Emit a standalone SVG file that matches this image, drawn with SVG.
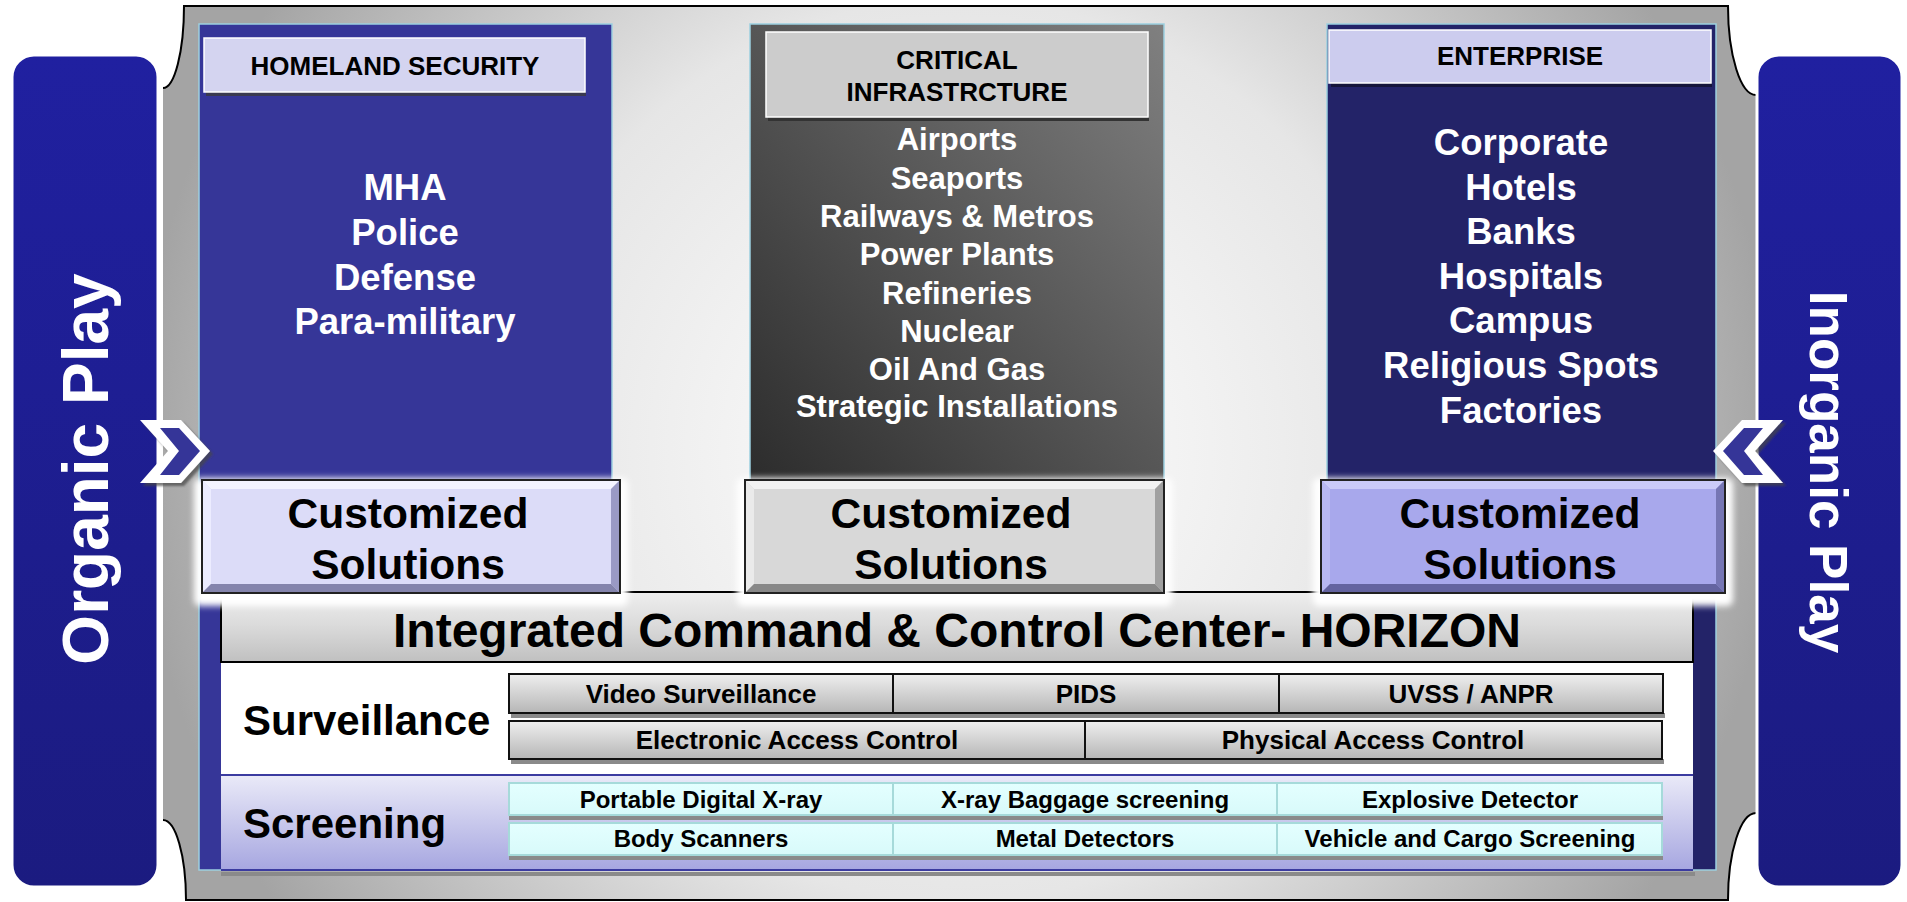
<svg xmlns="http://www.w3.org/2000/svg" width="1907" height="902" viewBox="0 0 1907 902">
<defs>
<style>
text{font-family:"Liberation Sans",Arial,sans-serif;font-weight:bold;}
.w{fill:#fff;}
.k{fill:#000;}
.mid{text-anchor:middle;}
.hdr{font-size:26px;fill:#000;text-anchor:middle;}
.item36{font-size:36.5px;fill:#fff;text-anchor:middle;}
.item31{font-size:31px;fill:#fff;text-anchor:middle;}
.cust{font-size:42.5px;fill:#000;text-anchor:middle;}
.sv{font-size:26px;fill:#000;text-anchor:middle;}
.sc{font-size:24px;fill:#000;text-anchor:middle;}
.svbox{fill:url(#gSv);stroke:#111;stroke-width:2;}
.scbox{fill:url(#gSc);stroke:#A6DADA;stroke-width:2;}
.shadow{fill:#8A8A8A;}
.edge{fill:none;stroke:#000;stroke-width:2;}
.bar{fill:url(#gBar);stroke:#fff;stroke-width:3;}
.panelEdge{stroke:#9CCFE0;stroke-width:1.5;}
</style>
<radialGradient id="gFrame" gradientUnits="userSpaceOnUse" cx="958" cy="450" r="820">
<stop offset="0" stop-color="#FFFFFF"/>
<stop offset="0.55" stop-color="#E6E6E6"/>
<stop offset="1" stop-color="#A4A4A4"/>
</radialGradient>
<linearGradient id="gBar" x1="0" y1="0" x2="0" y2="1">
<stop offset="0" stop-color="#2020A0"/>
<stop offset="1" stop-color="#1B1B80"/>
</linearGradient>
<linearGradient id="gCI" x1="0" y1="1" x2="1" y2="0">
<stop offset="0" stop-color="#2C2C2C"/>
<stop offset="1" stop-color="#808080"/>
</linearGradient>
<linearGradient id="gBand" x1="0" y1="0" x2="0" y2="1">
<stop offset="0" stop-color="#EEEEEE"/>
<stop offset="0.45" stop-color="#DCDCDC"/>
<stop offset="1" stop-color="#C0C0C0"/>
</linearGradient>
<linearGradient id="gLav" x1="0" y1="0" x2="0" y2="1">
<stop offset="0" stop-color="#EAEAF8"/>
<stop offset="1" stop-color="#A6A6E0"/>
</linearGradient>
<linearGradient id="gSv" x1="0" y1="0" x2="0" y2="1">
<stop offset="0" stop-color="#EFEFEF"/>
<stop offset="1" stop-color="#B6B6B6"/>
</linearGradient>
<linearGradient id="gSc" x1="0" y1="0" x2="0" y2="1">
<stop offset="0" stop-color="#E4FFFF"/>
<stop offset="1" stop-color="#D8FAFA"/>
</linearGradient>
<filter id="glow" x="-10%" y="-20%" width="120%" height="140%">
<feGaussianBlur stdDeviation="3"/>
</filter>
<filter id="ds" x="-20%" y="-20%" width="150%" height="150%">
<feDropShadow dx="3" dy="3" stdDeviation="1.2" flood-color="#444" flood-opacity="0.7"/>
</filter>
</defs>

<g id="frame">
<path d="M184,6 L1728,6 A28,89 0 0 0 1756,95 L1756,813 A28,87 0 0 0 1728,900 L186,900 A23,80 0 0 0 163,820 L163,88 A21,82 0 0 0 184,6 Z" fill="url(#gFrame)"/>
<path class="edge" d="M163,88 A21,82 0 0 0 184,6 L1728,6 A28,89 0 0 0 1756,95"/>
<path class="edge" d="M1756,813 A28,87 0 0 0 1728,900 L186,900 A23,80 0 0 0 163,820"/>
</g>

<g id="organic-play">
<rect class="bar" x="12" y="55" width="146" height="832" rx="22"/>
<text class="w mid" font-size="64" transform="translate(108,469) rotate(-90)">Organic Play</text>
</g>

<g id="inorganic-play">
<rect class="bar" x="1757" y="55" width="145" height="832" rx="22"/>
<text class="w mid" font-size="53" transform="translate(1810,472) rotate(90)">Inorganic Play</text>
</g>

<g id="homeland">
<rect class="panelEdge" x="199" y="24" width="413" height="846" fill="#363698"/>
<rect x="206" y="92" width="380" height="4" fill="#3A3A50"/>
<rect x="204" y="38" width="381" height="54" fill="#D4D4F0" stroke="#fff" stroke-width="1.5"/>
<text class="hdr" x="395" y="75">HOMELAND SECURITY</text>
<text class="item36" x="405" y="200">MHA</text>
<text class="item36" x="405" y="245">Police</text>
<text class="item36" x="405" y="290">Defense</text>
<text class="item36" x="405" y="334">Para-military</text>
</g>

<g id="critical">
<rect class="panelEdge" x="750" y="24" width="414" height="456" fill="url(#gCI)"/>
<rect x="768" y="117" width="381" height="4" fill="#333"/>
<rect x="766" y="32" width="382" height="85" fill="#CCCCCC" stroke="#fff" stroke-width="1.5"/>
<text class="hdr" x="957" y="69">CRITICAL</text>
<text class="hdr" x="957" y="101">INFRASTRCTURE</text>
<text class="item31" x="957" y="150">Airports</text>
<text class="item31" x="957" y="189">Seaports</text>
<text class="item31" x="957" y="227">Railways &amp; Metros</text>
<text class="item31" x="957" y="265">Power Plants</text>
<text class="item31" x="957" y="304">Refineries</text>
<text class="item31" x="957" y="342">Nuclear</text>
<text class="item31" x="957" y="380">Oil And Gas</text>
<text class="item31" x="957" y="417">Strategic Installations</text>
</g>

<g id="enterprise">
<rect class="panelEdge" x="1327" y="24" width="389" height="846" fill="#232368"/>
<rect x="1331" y="83" width="381" height="4" fill="#15153A"/>
<rect x="1329" y="30" width="382" height="53" fill="#CCCCEE" stroke="#fff" stroke-width="1.5"/>
<text class="hdr" x="1520" y="65">ENTERPRISE</text>
<text class="item36" x="1521" y="155">Corporate</text>
<text class="item36" x="1521" y="200">Hotels</text>
<text class="item36" x="1521" y="244">Banks</text>
<text class="item36" x="1521" y="289">Hospitals</text>
<text class="item36" x="1521" y="333">Campus</text>
<text class="item36" x="1521" y="378">Religious Spots</text>
<text class="item36" x="1521" y="423">Factories</text>
</g>

<g id="icc">
<rect x="221" y="592" width="1472" height="70" fill="url(#gBand)" stroke="#000" stroke-width="2"/>
<text class="k mid" font-size="48" x="957" y="647">Integrated Command &amp; Control Center- HORIZON</text>
</g>

<g id="surveillance">
<rect x="221" y="663" width="1472" height="111" fill="#fff"/>
<text class="k" font-size="42" x="243" y="735">Surveillance</text>
<rect class="shadow" x="511" y="713" width="1154" height="5"/>
<rect class="svbox" x="509" y="674" width="384" height="39"/>
<rect class="svbox" x="893" y="674" width="386" height="39"/>
<rect class="svbox" x="1279" y="674" width="384" height="39"/>
<text class="sv" x="701" y="703">Video Surveillance</text>
<text class="sv" x="1086" y="703">PIDS</text>
<text class="sv" x="1471" y="703">UVSS / ANPR</text>
<rect class="shadow" x="511" y="759" width="1153" height="5"/>
<rect class="svbox" x="509" y="721" width="576" height="38"/>
<rect class="svbox" x="1085" y="721" width="577" height="38"/>
<text class="sv" x="797" y="749">Electronic Access Control</text>
<text class="sv" x="1373" y="749">Physical Access Control</text>
</g>

<g id="screening">
<rect x="221" y="872" width="1474" height="4" fill="#8A8A8A"/>
<rect x="221" y="775" width="1472" height="96" fill="url(#gLav)"/>
<line x1="221" y1="775" x2="1693" y2="775" stroke="#3B3BA0" stroke-width="2"/>
<line x1="221" y1="870" x2="1693" y2="870" stroke="#3B3BA0" stroke-width="2"/>
<text class="k" font-size="42" x="243" y="838">Screening</text>
<rect class="shadow" x="509" y="815" width="1154" height="5"/>
<rect class="scbox" x="509" y="783" width="384" height="32"/>
<rect class="scbox" x="893" y="783" width="384" height="32"/>
<rect class="scbox" x="1277" y="783" width="385" height="32"/>
<text class="sc" x="701" y="808">Portable Digital X-ray</text>
<text class="sc" x="1085" y="808">X-ray Baggage screening</text>
<text class="sc" x="1470" y="808">Explosive Detector</text>
<rect class="shadow" x="509" y="855" width="1154" height="5"/>
<rect class="scbox" x="509" y="823" width="384" height="32"/>
<rect class="scbox" x="893" y="823" width="384" height="32"/>
<rect class="scbox" x="1277" y="823" width="385" height="32"/>
<text class="sc" x="701" y="847">Body Scanners</text>
<text class="sc" x="1085" y="847">Metal Detectors</text>
<text class="sc" x="1470" y="847">Vehicle and Cargo Screening</text>
</g>

<g id="custom-homeland">
<rect x="194" y="478" width="434" height="128" rx="6" fill="#fff" filter="url(#glow)"/>
<rect x="202" y="480" width="418" height="113" fill="#DCDCF8" stroke="#222" stroke-width="2"/>
<polygon points="203,481 619,481 611,489 211,489" fill="#F4F4FF"/>
<polygon points="203,481 211,489 211,584 203,592" fill="#ECECFF"/>
<polygon points="619,481 611,489 611,584 619,592" fill="#9A9AC4"/>
<polygon points="203,592 619,592 611,584 211,584" fill="#8484AC"/>
<text class="cust" x="408" y="528">Customized</text>
<text class="cust" x="408" y="579">Solutions</text>
</g>

<g id="custom-critical">
<rect x="737" y="478" width="435" height="128" rx="6" fill="#fff" filter="url(#glow)"/>
<rect x="745" y="480" width="419" height="113" fill="#D8D8D8" stroke="#222" stroke-width="2"/>
<polygon points="746,481 1163,481 1155,489 754,489" fill="#F2F2F2"/>
<polygon points="746,481 754,489 754,584 746,592" fill="#EAEAEA"/>
<polygon points="1163,481 1155,489 1155,584 1163,592" fill="#A0A0A0"/>
<polygon points="746,592 1163,592 1155,584 754,584" fill="#888888"/>
<text class="cust" x="951" y="528">Customized</text>
<text class="cust" x="951" y="579">Solutions</text>
</g>

<g id="custom-enterprise">
<rect x="1313" y="478" width="420" height="128" rx="6" fill="#fff" filter="url(#glow)"/>
<rect x="1321" y="480" width="404" height="113" fill="#A8A8EC" stroke="#222" stroke-width="2"/>
<polygon points="1322,481 1724,481 1716,489 1330,489" fill="#CACAF8"/>
<polygon points="1322,481 1330,489 1330,584 1322,592" fill="#B8B8F2"/>
<polygon points="1724,481 1716,489 1716,584 1724,592" fill="#7676B4"/>
<polygon points="1322,592 1724,592 1716,584 1330,584" fill="#6464A0"/>
<text class="cust" x="1520" y="528">Customized</text>
<text class="cust" x="1520" y="579">Solutions</text>
</g>

<g id="connectors">
<g filter="url(#ds)">
<polygon points="140,420 181,420 210,451 181,483 140,483 168,451" fill="#fff"/>
<polygon points="160,428 179,428 200,451 179,475 160,475 179,451" fill="#363698"/>
</g>
<g filter="url(#ds)">
<polygon points="1783,420 1742,420 1713,451 1742,483 1783,483 1755,451" fill="#fff"/>
<polygon points="1763,428 1744,428 1723,451 1744,475 1763,475 1744,451" fill="#363698"/>
</g>
</g>
</svg>
